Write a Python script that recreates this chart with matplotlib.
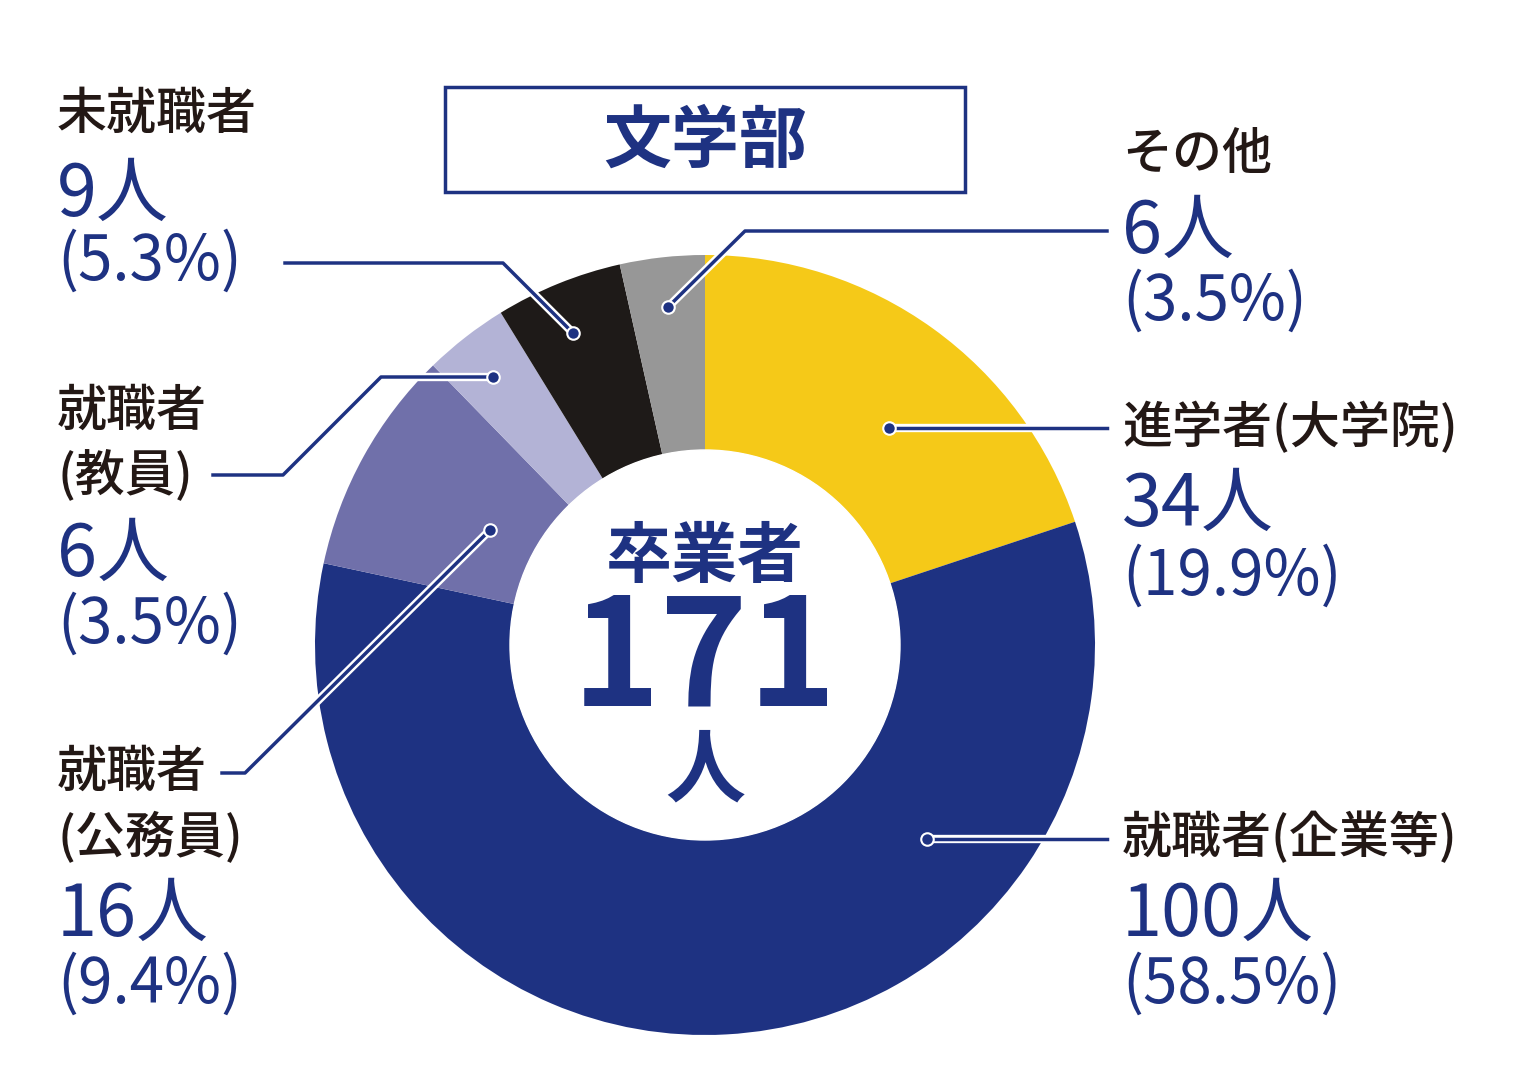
import matplotlib.pyplot as plt
from matplotlib.patches import Rectangle, Circle

plt.rcParams['font.family'] = 'Noto Sans CJK JP'

# データ
categories = ['進学者(大学院)', '就職者(企業等)', '就職者(公務員)', '就職者(教員)', '未就職者', 'その他']
counts = [34, 100, 16, 6, 9, 6]
percents = ['19.9%', '58.5%', '9.4%', '3.5%', '5.3%', '3.5%']
colors = ['#F5C918', '#1E3282', '#7070AA', '#B3B3D6', '#1E1A18', '#979797']
total = 171

NAVY = '#1E3282'
W, H = 1532, 1092
CX, CY = 705, 645


def y(py):
    return H - py


def pt(px):
    return px * 0.72


fig = plt.figure(figsize=(W / 100, H / 100), dpi=100)
ax = fig.add_axes([0, 0, 1, 1])
ax.set_xlim(0, W)
ax.set_ylim(0, H)
ax.axis('off')

ax.pie(counts, colors=colors, startangle=90, counterclock=False,
       center=(CX, y(CY)), radius=390,
       wedgeprops=dict(width=195, edgecolor='none'))
ax.add_patch(Circle((CX, y(CY)), 195, color='white', zorder=3))
ax.set_xlim(0, W)
ax.set_ylim(0, H)
ax.set_aspect('equal')

# 中央テキスト
ax.text(CX, y(558), '卒業者', ha='center', va='center', color=NAVY,
        fontsize=pt(66), fontweight='bold', zorder=4)
ax.text(CX, y(662), str(total), ha='center', va='center', color=NAVY,
        fontsize=pt(150), fontweight='bold', zorder=4)
ax.text(CX, y(772), '人', ha='center', va='center', color=NAVY,
        fontsize=pt(80), fontweight='bold', zorder=4)

# タイトル
ax.add_patch(Rectangle((445, y(192)), 520, 105, fill=False, edgecolor=NAVY, lw=2.5, zorder=4))
ax.text(705, y(142), '文学部', ha='center', va='center', color=NAVY,
        fontsize=pt(68), fontweight='bold', zorder=5)

# 引き出し線
leaders = [
    [(889, 428), (1107, 428)],
    [(927, 839), (1107, 839)],
    [(490, 530), (245, 773), (222, 773)],
    [(493, 377), (381, 377), (283, 475), (213, 475)],
    [(573, 333), (503, 263), (285, 263)],
    [(668, 307), (745, 231), (1107, 231)],
]
for pts in leaders:
    xs = [p[0] for p in pts]
    ys = [y(p[1]) for p in pts]
    ax.plot(xs, ys, color='white', lw=6, zorder=5, solid_capstyle='round')
    ax.plot(xs, ys, color=NAVY, lw=2.5, zorder=6)
    ax.plot(xs[0], ys[0], 'o', ms=9, mfc=NAVY, mec='white', mew=1.5, zorder=7)

# ラベル
label_pos = {
    0: (1122, [428, 505, 577]),
    1: (1122, [838, 915, 985]),
    2: (57, [773, 838, 915, 985]),
    3: (57, [412, 475, 555, 625]),
    4: (57, [115, 195, 262]),
    5: (1122, [155, 232, 302]),
}
for i, (lx, ys_) in label_pos.items():
    name = categories[i]
    if len(ys_) == 4:
        parts = [name[:3], name[3:]]
    else:
        parts = [name]
    for j, part in enumerate(parts):
        ax.text(lx, y(ys_[j]), part, ha='left', va='center', color='#231815',
                fontsize=pt(50), fontweight='medium')
    k = len(parts)
    ax.text(lx, y(ys_[k]), f'{counts[i]}人', ha='left', va='center', color=NAVY,
            fontsize=pt(72))
    ax.text(lx, y(ys_[k + 1]), f'({percents[i]})', ha='left', va='center', color=NAVY,
            fontsize=pt(62))

fig.savefig('out.png', dpi=100)
